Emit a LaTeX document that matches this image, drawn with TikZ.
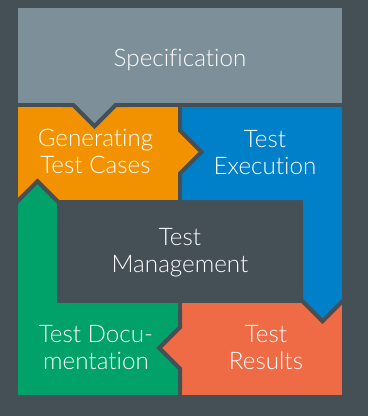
\documentclass[tikz,border=0pt]{standalone}
\usepackage{fontspec}
\setmainfont{Lato}[UprightFont={* Light},Ligatures=NoCommon]
\definecolor{bgc}{HTML}{454F56}
\definecolor{specc}{HTML}{7D8F99}
\definecolor{orangec}{HTML}{F39200}
\definecolor{bluec}{HTML}{0080C8}
\definecolor{greenc}{HTML}{00A26A}
\definecolor{coralc}{HTML}{EE6B45}
\begin{document}
\begin{tikzpicture}[x=1pt,y=-1pt,
  outl/.style={draw=bgc,line width=4pt,line join=miter,miter limit=10},
  lbl/.style={text=white,align=center,font=\fontsize{24.2}{27}\selectfont}]
\fill[bgc] (0,0) rectangle (368,416);
\useasboundingbox (0,0) rectangle (368,416);
% bodies
\fill[specc] (18,8) rectangle (342,103);
\fill[orangec] (18,107) rectangle (178,200);
\fill[bluec] (182,107) -- (342,107) -- (342,300) -- (303,300) -- (303,200) -- (182,200) -- cycle;
\fill[greenc] (18,203.5) -- (57,203.5) -- (57,303) -- (178,303) -- (178,395) -- (18,395) -- cycle;
\fill[coralc] (182,303) rectangle (342,395);
% arrow heads
\fill[specc] (73.2,101) -- (73.2,105) -- (94.5,126.3) -- (115.8,105) -- (115.8,101) -- cycle;
\draw[outl] (62,105) -- (73.2,105) -- (94.5,126.3) -- (115.8,105) -- (128,105);
\fill[orangec] (176,130.5) -- (180,130.5) -- (201.5,152) -- (180,173.5) -- (176,173.5) -- cycle;
\draw[outl] (180,115) -- (180,130.5) -- (201.5,152) -- (180,173.5) -- (180,190);
\fill[bluec] (301,290) -- (301,299.8) -- (322.5,321.3) -- (344,299.8) -- (344,290) -- cycle;
\draw[outl] (301,285) -- (301,299.8) -- (322.5,321.3) -- (344,299.8) -- (344,285);
\fill[coralc] (184,327.2) -- (180,327.2) -- (159.2,348) -- (180,368.8) -- (184,368.8) -- cycle;
\draw[outl] (180,310) -- (180,327.2) -- (159.2,348) -- (180,368.8) -- (180,390);
\fill[greenc] (16,210) -- (16,202.7) -- (37.5,181.2) -- (59,202.7) -- (59,210) -- cycle;
\draw[outl] (16,210) -- (16,202.7) -- (37.5,181.2) -- (59,202.7) -- (59,210);
% labels
\node[lbl] (spec) at (180,60) {Specification};
\node[lbl] (gen) at (95.5,151) {Generating\\Test Cases};
\node[lbl] (exe) at (265,153) {Test\\Execution};
\node[lbl] (mgmt) at (180,253) {Test\\Management};
\node[lbl] (doc) at (96,348) {Test Docu-\\mentation};
\node[lbl] (res) at (266,348) {Test\\Results};
\end{tikzpicture}
\end{document}
